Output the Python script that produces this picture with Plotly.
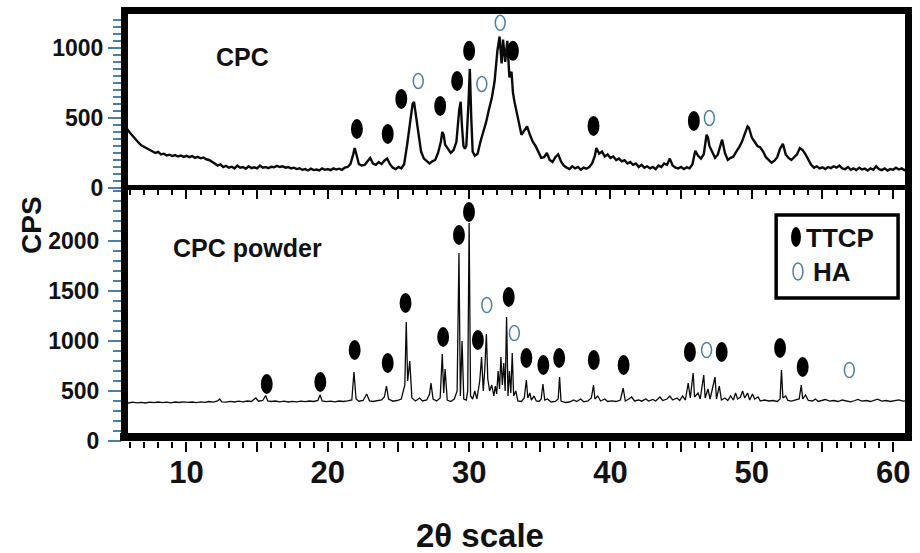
import plotly.graph_objects as go

# ---------------- data ----------------
# CPC (top panel) diffraction trace
cpc_x = [5.6, 5.8, 6.0, 6.2, 6.4, 6.6, 6.8, 7.0, 7.2, 7.4, 7.6, 7.8, 8.0, 8.2, 8.4, 8.6, 8.8, 9.0, 9.2, 9.4,
         9.6, 9.8, 10.0, 10.2, 10.4, 10.6, 10.8, 11.0, 11.2, 11.4, 11.6, 11.8, 12.0, 12.2, 12.4, 12.6, 12.8, 13.0, 13.2, 13.4,
         13.6, 13.8, 14.0, 14.2, 14.4, 14.6, 14.8, 15.0, 15.2, 15.4, 15.6, 15.8, 16.0, 16.2, 16.4, 16.6, 16.8, 17.0, 17.2, 17.4,
         17.6, 17.8, 18.0, 18.2, 18.4, 18.6, 18.8, 19.0, 19.2, 19.4, 19.6, 19.8, 20.0, 20.2, 20.4, 20.6, 20.8, 21.0, 21.2, 21.4,
         21.6, 21.8, 21.9, 22.0, 22.2, 22.4, 22.6, 22.8, 23.0, 23.2, 23.4, 23.6, 23.8, 24.0, 24.2, 24.4, 24.6, 24.8, 25.0, 25.2,
         25.4, 25.6, 25.8, 26.0, 26.1, 26.2, 26.4, 26.6, 26.8, 27.0, 27.2, 27.4, 27.6, 27.8, 28.0, 28.1, 28.2, 28.3, 28.5, 28.7,
         28.9, 29.1, 29.3, 29.4, 29.5, 29.6, 29.7, 29.8, 29.95, 30.05, 30.15, 30.25, 30.4, 30.6, 30.8, 31.0, 31.2, 31.4, 31.6, 31.8,
         32.0, 32.15, 32.3, 32.4, 32.55, 32.7, 32.85, 33.0, 33.1, 33.2, 33.35, 33.5, 33.7, 33.9, 34.1, 34.3, 34.5, 34.7, 34.9, 35.1,
         35.3, 35.5, 35.7, 35.9, 36.1, 36.3, 36.5, 36.7, 36.9, 37.1, 37.3, 37.5, 37.7, 37.9, 38.1, 38.3, 38.5, 38.7, 38.9, 39.0,
         39.2, 39.4, 39.6, 39.8, 40.0, 40.2, 40.4, 40.6, 40.8, 41.0, 41.2, 41.4, 41.6, 41.8, 42.0, 42.2, 42.4, 42.6, 42.8, 43.0,
         43.2, 43.4, 43.6, 43.8, 44.0, 44.2, 44.4, 44.6, 44.8, 45.0, 45.2, 45.4, 45.6, 45.8, 46.0, 46.2, 46.4, 46.6, 46.8, 46.9,
         47.0, 47.2, 47.4, 47.6, 47.8, 47.9, 48.1, 48.3, 48.5, 48.7, 48.9, 49.1, 49.3, 49.5, 49.7, 49.8, 50.0, 50.2, 50.4, 50.6,
         50.8, 51.0, 51.2, 51.4, 51.6, 51.8, 52.0, 52.2, 52.4, 52.6, 52.8, 53.0, 53.2, 53.4, 53.6, 53.8, 54.0, 54.2, 54.4, 54.6,
         54.8, 55.0, 55.2, 55.4, 55.6, 55.8, 56.0, 56.2, 56.4, 56.6, 56.8, 57.0, 57.2, 57.4, 57.6, 57.8, 58.0, 58.2, 58.4, 58.6,
         58.8, 59.0, 59.2, 59.4, 59.6, 59.8, 60.0, 60.2, 60.4, 60.6, 60.8, 61.0]
cpc_y = [430, 420, 395, 370, 345, 325, 305, 295, 280, 270, 262, 250, 258, 240, 245, 232, 238, 228, 235, 225,
         232, 222, 230, 220, 228, 215, 222, 212, 218, 205, 200, 190, 175, 160, 168, 150, 158, 145, 152, 140,
         160, 145, 150, 138, 155, 142, 148, 140, 160, 145, 150, 142, 152, 148, 158, 150, 155, 145, 150, 140,
         145, 135, 140, 130, 135, 125, 138, 128, 132, 125, 140, 130, 135, 128, 140, 132, 138, 130, 145, 150,
         170, 240, 285, 250, 170, 160, 165, 190, 215, 175, 165, 185, 170, 195, 210, 170, 145, 135, 150, 140,
         170, 300, 440, 600, 615, 540, 390, 260, 210, 190, 175, 190, 200, 250, 330, 400, 380, 310, 280, 250,
         270, 330, 560, 615, 430, 300, 280, 300, 600, 850, 500, 260, 230, 245, 330, 400, 470, 560, 640, 760,
         980, 1080, 890, 1060, 900, 1050, 790, 830, 680, 620, 540, 470, 380, 410, 440, 380, 330, 300, 260, 215,
         220, 250, 200, 185, 220, 240, 190, 160, 145, 135, 155, 140, 150, 130, 145, 138, 150, 175, 230, 285,
         245, 260, 225, 240, 215, 225, 200, 210, 190, 198, 175, 185, 165, 175, 150, 165, 145, 155, 140, 150,
         135, 160, 150, 175, 165, 210, 160, 145, 140, 150, 135, 148, 140, 170, 265, 230, 210, 240, 380, 360,
         300, 260, 215, 240, 300, 345, 250, 200, 215, 225, 260, 290, 330, 380, 440, 430, 360, 330, 300, 290,
         260, 220, 200, 180, 195, 220, 280, 315, 240, 215, 200, 220, 240, 285, 270, 240, 200, 165, 145, 155,
         140, 148, 135, 150, 142, 155, 145, 160, 140, 135, 150, 130, 140, 128, 145, 132, 138, 125, 140, 130,
         155, 135, 128, 140, 125, 135, 130, 145, 132, 140, 128, 135]

# CPC powder (bottom panel) diffraction trace
powder_x = [5.6, 5.9, 6.2, 6.5, 6.8, 7.1, 7.4, 7.7, 8.0, 8.3, 8.6, 8.9, 9.2, 9.5, 9.8, 10.1, 10.4, 10.7, 11.0, 11.3,
            11.6, 11.9, 12.2, 12.35, 12.5, 12.8, 13.1, 13.4, 13.7, 14.0, 14.3, 14.6, 14.9, 15.1, 15.4, 15.6, 15.75, 16.0, 16.3, 16.6,
            16.9, 17.2, 17.5, 17.8, 18.1, 18.4, 18.7, 19.0, 19.3, 19.45, 19.6, 19.9, 20.2, 20.5, 20.8, 21.1, 21.4, 21.7, 21.85, 22.0,
            22.2, 22.5, 22.75, 22.95, 23.2, 23.5, 23.8, 24.0, 24.15, 24.3, 24.6, 24.9, 25.2, 25.45, 25.55, 25.65, 25.8, 25.95, 26.2, 26.5,
            26.7, 27.0, 27.2, 27.3, 27.45, 27.7, 27.95, 28.1, 28.2, 28.3, 28.45, 28.7, 28.95, 29.15, 29.28, 29.38, 29.5, 29.62, 29.8, 29.9,
            30.0, 30.1, 30.25, 30.4, 30.55, 30.75, 30.88, 31.0, 31.1, 31.22, 31.32, 31.45, 31.6, 31.75, 31.85, 31.95, 32.05, 32.15, 32.25, 32.35,
            32.45, 32.55, 32.65, 32.75, 32.85, 32.95, 33.05, 33.15, 33.3, 33.45, 33.7, 33.9, 34.05, 34.15, 34.3, 34.4, 34.6, 34.75, 34.95, 35.1,
            35.22, 35.35, 35.55, 35.8, 36.1, 36.3, 36.4, 36.5, 36.8, 37.1, 37.4, 37.6, 37.9, 38.1, 38.4, 38.65, 38.8, 38.9, 39.1, 39.3,
            39.6, 39.8, 40.1, 40.4, 40.7, 40.9, 41.05, 41.3, 41.5, 41.7, 42.0, 42.2, 42.5, 42.7, 43.0, 43.2, 43.5, 43.7, 44.0, 44.2,
            44.4, 44.7, 44.9, 45.1, 45.3, 45.5, 45.65, 45.85, 45.95, 46.2, 46.35, 46.6, 46.7, 46.9, 47.05, 47.4, 47.5, 47.7, 47.85, 48.1,
            48.3, 48.5, 48.7, 48.85, 49.0, 49.2, 49.35, 49.5, 49.7, 49.85, 50.05, 50.2, 50.45, 50.6, 50.9, 51.2, 51.5, 51.8, 52.0, 52.1,
            52.2, 52.4, 52.55, 52.8, 53.1, 53.35, 53.5, 53.6, 53.8, 54.0, 54.3, 54.5, 54.7, 55.0, 55.2, 55.5, 55.8, 56.1, 56.4, 56.7,
            57.0, 57.3, 57.5, 57.8, 58.1, 58.4, 58.7, 58.9, 59.2, 59.5, 59.8, 60.1, 60.4, 60.7, 61.0]
powder_y = [385, 380, 388, 382, 386, 380, 388, 383, 390, 384, 388, 382, 390, 385, 392, 386, 390, 384, 392, 386,
            395, 388, 400, 420, 392, 388, 396, 390, 398, 392, 400, 395, 430, 398, 405, 455, 400, 395, 400, 392,
            398, 390, 396, 392, 398, 393, 400, 395, 405, 460, 400, 394, 398, 392, 400, 395, 402, 410, 690, 420,
            398, 405, 470, 400, 395, 402, 410, 440, 550, 420, 398, 405, 420, 560, 1190, 600, 800, 430, 400, 430,
            400, 410, 470, 580, 420, 400, 430, 870, 480, 720, 410, 395, 420, 500, 1880, 450, 1000, 420, 410, 500,
            2180, 450, 420, 500, 420, 600, 840, 500, 700, 1070, 620, 500, 560, 450, 550, 470, 700, 520, 840, 560,
            780, 500, 1240, 450, 700, 480, 880, 450, 500, 400, 395, 430, 610, 430, 480, 410, 450, 400, 395, 420,
            570, 410, 420, 390, 395, 420, 640, 400, 385, 390, 410, 395, 420, 392, 400, 430, 560, 420, 450, 400,
            420, 395, 402, 395, 410, 530, 400, 420, 440, 400, 410, 398, 420, 400, 415, 400, 440, 405, 420, 450,
            410, 430, 405, 450, 410, 580, 430, 680, 440, 480, 420, 660, 430, 520, 420, 640, 420, 550, 410, 430,
            405, 450, 410, 480, 420, 440, 500, 430, 480, 410, 470, 420, 440, 400, 410, 400, 405, 395, 420, 710,
            430, 450, 405, 398, 410, 420, 560, 420, 460, 405, 400, 420, 395, 405, 415, 398, 405, 395, 410, 400,
            392, 405, 415, 398, 405, 395, 410, 418, 398, 405, 395, 402, 412, 398, 405]

# phase markers (peak labels)
cpc_ttcp_x = [22.06, 24.24, 25.2, 27.95, 29.15, 30.0, 33.1, 38.8, 45.9]
cpc_ttcp_y = [421, 386, 636, 586, 764, 979, 979, 443, 479]
cpc_ha_x = [26.4, 30.9, 32.2, 47.0]
cpc_ha_y = [764, 743, 1179, 500]
powder_ttcp_x = [15.68, 19.47, 21.9, 24.24, 25.5, 28.16, 29.28, 29.99, 30.62, 32.8, 34.05, 35.25, 36.37,
                 38.82, 40.93, 45.62, 47.87, 52.0, 53.6]
powder_ttcp_y = [570, 590, 910, 780, 1380, 1040, 2060, 2290, 1010, 1440, 830, 760, 830,
                 810, 760, 890, 890, 930, 740]
powder_ha_x = [31.25, 33.2, 46.8, 56.9]
powder_ha_y = [1360, 1080, 910, 710]

x_ticks = [10, 15, 20, 25, 30, 35, 40, 45, 50, 55, 60]
x_tick_text = ["10", "", "20", "", "30", "", "40", "", "50", "", "60"]
cpc_y_ticks = [0, 500, 1000]
powder_y_ticks = [0, 500, 1000, 1500, 2000]

# ---------------- layout constants ----------------
W, H = 920, 553
ML, MR, MT, MB = 128, 8, 14, 112
PW, PH = W - ML - MR, H - MT - MB
SPLIT = 253 / PH
X_RANGE = [5.863, 60.84]
TOP_RANGE = [0, 1242]
BOT_RANGE = [0, 2530]
FONT = "Arial, Liberation Sans, sans-serif"
TICKBLUE = "#4a80a6"
HABLUE = "#4d7fa0"

xpx = (X_RANGE[1] - X_RANGE[0]) / PW
top_px = (TOP_RANGE[1] - TOP_RANGE[0]) / (PH * (1 - SPLIT))
bot_px = (BOT_RANGE[1] - BOT_RANGE[0]) / (PH * SPLIT)

fig = go.Figure()
fig.add_trace(go.Scatter(x=cpc_x, y=cpc_y, xaxis="x2", yaxis="y2", mode="lines",
                         line=dict(color="#0a0a0a", width=2.4), hoverinfo="skip"))
fig.add_trace(go.Scatter(x=powder_x, y=powder_y, xaxis="x", yaxis="y", mode="lines",
                         line=dict(color="#0a0a0a", width=1.3), hoverinfo="skip"))

shapes = []


def ellipse(xc, yc, wpx, hpx, ypx, yref, filled):
    d = dict(type="circle", xref="x" if yref == "y" else "x2", yref=yref,
             x0=xc - wpx / 2 * xpx, x1=xc + wpx / 2 * xpx,
             y0=yc - hpx / 2 * ypx, y1=yc + hpx / 2 * ypx, layer="above")
    if filled:
        d.update(fillcolor="black", line=dict(width=0))
    else:
        d.update(fillcolor="white", line=dict(color=HABLUE, width=1.5))
    return d


for xv, yv in zip(cpc_ttcp_x, cpc_ttcp_y):
    shapes.append(ellipse(xv, yv, 12, 20, top_px, "y2", True))
for xv, yv in zip(cpc_ha_x, cpc_ha_y):
    shapes.append(ellipse(xv, yv, 10, 15, top_px, "y2", False))
for xv, yv in zip(powder_ttcp_x, powder_ttcp_y):
    shapes.append(ellipse(xv, yv, 12, 20, bot_px, "y", True))
for xv, yv in zip(powder_ha_x, powder_ha_y):
    shapes.append(ellipse(xv, yv, 10, 15, bot_px, "y", False))


def px2paper(px, py):
    return (px - ML) / PW, (H - MB - py) / PH


def prect(px0, py0, px1, py1, **kw):
    a0, b0 = px2paper(px0, py1)
    a1, b1 = px2paper(px1, py0)
    d = dict(type="rect", xref="paper", yref="paper", x0=a0, y0=b0, x1=a1, y1=b1, layer="above")
    d.update(kw)
    return d


# frame bars (top border, panel divider, bottom axis)
shapes.append(prect(121, 7, 919, 14, fillcolor="black", line=dict(width=0)))
shapes.append(prect(121, 185, 919, 190, fillcolor="black", line=dict(width=0)))
shapes.append(prect(120, 433, 919, 441, fillcolor="black", line=dict(width=0)))

# legend box
shapes.append(prect(782, 215, 905, 298, fillcolor="white", line=dict(color="black", width=3.5)))
a0, b0 = px2paper(797, 247)
a1, b1 = px2paper(807, 227)
shapes.append(dict(type="circle", xref="paper", yref="paper", x0=a0, y0=b0, x1=a1, y1=b1,
                   fillcolor="black", line=dict(width=0), layer="above"))
a0, b0 = px2paper(799, 280)
a1, b1 = px2paper(809, 263)
shapes.append(dict(type="circle", xref="paper", yref="paper", x0=a0, y0=b0, x1=a1, y1=b1,
                   fillcolor="white", line=dict(color=HABLUE, width=1.5), layer="above"))

annotations = []


def label(text, px, py, size, xanchor="left", angle=0):
    ax, ay = px2paper(px, py)
    annotations.append(dict(text=text, x=ax, y=ay, xref="paper", yref="paper", showarrow=False,
                            xanchor=xanchor, yanchor="middle", textangle=angle,
                            font=dict(family=FONT, size=size, color="#111", weight="bold")))


label("CPC", 215, 57, 25)
label("CPC powder", 171, 248, 25)
label("TTCP", 810, 238, 26)
label("HA", 817, 272, 26)
label("2θ scale", 483, 535, 33, xanchor="center")
label("CPS", 30, 225, 28, xanchor="center", angle=-90)

tickfont_x = dict(family=FONT, size=31, color="#111", weight="bold")
tickfont_y = dict(family=FONT, size=23, color="#111", weight="bold")

fig.update_layout(
    width=W, height=H, margin=dict(l=ML, r=MR, t=MT, b=MB),
    paper_bgcolor="white", plot_bgcolor="white", showlegend=False,
    shapes=shapes, annotations=annotations,
    xaxis=dict(domain=[0, 1], anchor="y", range=X_RANGE, showgrid=False, zeroline=False,
               showline=False,
               ticks="outside", ticklen=10, tickwidth=2, tickcolor="black",
               tickmode="array", tickvals=x_ticks, ticktext=x_tick_text,
               tickfont=tickfont_x, ticklabelstandoff=-6,
               minor=dict(tickmode="linear", tick0=0, dtick=1, ticks="outside", ticklen=6,
                          tickwidth=1.5, tickcolor="black")),
    xaxis2=dict(domain=[0, 1], anchor="y2", matches="x", range=X_RANGE, showgrid=False, zeroline=False,
                showline=False,
                ticks="outside", ticklen=10, tickwidth=2, tickcolor="black",
                tickmode="array", tickvals=x_ticks, showticklabels=False,
                minor=dict(tickmode="linear", tick0=0, dtick=1, ticks="outside", ticklen=6,
                           tickwidth=1.5, tickcolor="black")),
    yaxis=dict(domain=[0, SPLIT], anchor="x", range=BOT_RANGE, showgrid=False, zeroline=False,
               showline=True, linecolor="black", linewidth=7, mirror=True,
               ticks="outside", ticklen=13, tickwidth=2, tickcolor=TICKBLUE,
               tickmode="array", tickvals=powder_y_ticks, ticktext=[str(v) for v in powder_y_ticks],
               tickfont=tickfont_y, ticklabelstandoff=4,
               minor=dict(tickmode="linear", tick0=0, dtick=100, ticks="outside", ticklen=8,
                          tickwidth=1.5, tickcolor=TICKBLUE)),
    yaxis2=dict(domain=[SPLIT, 1], anchor="x2", range=TOP_RANGE, showgrid=False, zeroline=False,
                showline=True, linecolor="black", linewidth=7, mirror=True,
                ticks="outside", ticklen=13, tickwidth=2, tickcolor=TICKBLUE,
                tickmode="array", tickvals=cpc_y_ticks, ticktext=[str(v) for v in cpc_y_ticks],
                tickfont=tickfont_y, ticklabelstandoff=0,
                minor=dict(tickmode="linear", tick0=0, dtick=50, ticks="outside", ticklen=8,
                           tickwidth=1.5, tickcolor=TICKBLUE)),
)

fig.write_html("out.html", config={"displayModeBar": False},
               post_script="document.body.style.margin='0px';")
